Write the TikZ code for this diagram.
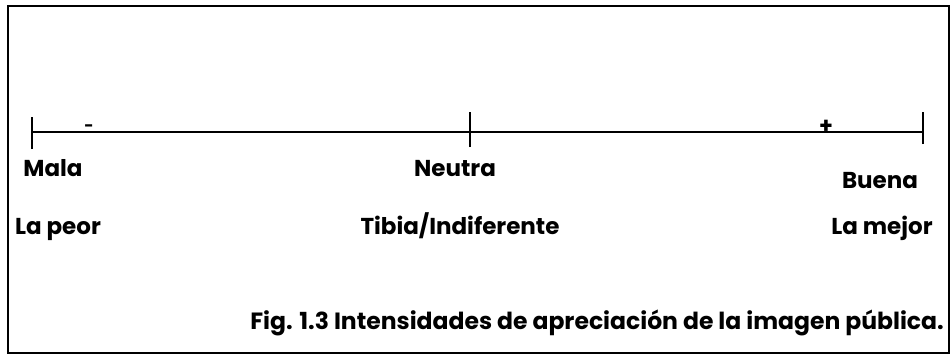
\documentclass[tikz,border=0pt]{standalone}
\usepackage{fontspec}
\setmainfont{Poppins}
\begin{document}
\begin{tikzpicture}[x=1pt,y=-1pt,
  lbl/.style={font=\fontsize{23}{26}\selectfont\bfseries, inner sep=0pt, anchor=base},
  tick/.style={line width=2pt},
  axis/.style={line width=1.8pt}]
\useasboundingbox (0,0) rectangle (950,359);
\node[draw, line width=1.6pt, minimum width=941pt, minimum height=347pt, inner sep=0pt, anchor=north west] (frame) at (7,5) {};
\coordinate (L) at (32,132);
\coordinate (M) at (470,132);
\coordinate (R) at (923,132);
\draw[axis] (L) -- (M) -- (R);
\draw[tick] ([yshift=-17pt]L) -- ([yshift=15pt]L);
\draw[tick] ([yshift=-15pt]M) -- ([yshift=20pt]M);
\draw[tick] ([yshift=-12pt]R) -- ([yshift=20pt]R);
\node[lbl, font=\fontsize{16}{18}\selectfont\bfseries] (minus) at (89,131) {-};
\node[lbl, font=\fontsize{22}{24}\selectfont\bfseries] (plus) at (826,133) {+};
\node[lbl] (mala) at (53,176) {Mala};
\node[lbl] (neutra) at (455,176) {Neutra};
\node[lbl] (buena) at (880,188) {Buena};
\node[lbl] (peor) at (58,234) {La peor};
\node[lbl] (tibia) at (460,234) {Tibia/Indiferente};
\node[lbl] (mejor) at (882,234) {La mejor};
\node[lbl, font=\fontsize{23.5}{26}\selectfont\bfseries, anchor=base east] (cap) at (944,329) {Fig. 1.3 Intensidades de apreciación de la imagen pública.};
\end{tikzpicture}
\end{document}
